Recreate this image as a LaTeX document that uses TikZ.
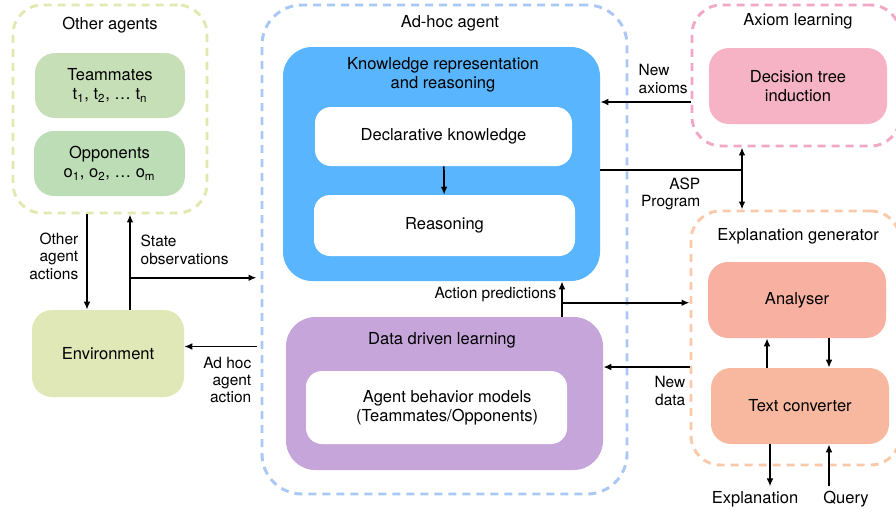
\documentclass[tikz,border=0pt]{standalone}
\usepackage{fontspec}
\setmainfont{TeX Gyre Heros}
\usetikzlibrary{calc, positioning, arrows.meta}

\definecolor{othersdash}{HTML}{E2E8B0}
\definecolor{teamfill}{HTML}{C7DFB6}
\definecolor{oppfill}{HTML}{BCDDB5}
\definecolor{envfill}{HTML}{E1E8B7}
\definecolor{adhocdash}{HTML}{A9C8F5}
\definecolor{krrfill}{HTML}{59B5FD}
\definecolor{ddlfill}{HTML}{C6A5DB}
\definecolor{axiomdash}{HTML}{F1A8C7}
\definecolor{dtfill}{HTML}{F6B3C6}
\definecolor{expldash}{HTML}{F9C9A9}
\definecolor{anfill}{HTML}{F8B1A1}
\definecolor{tcfill}{HTML}{F8B8A0}

\begin{document}
\begin{tikzpicture}[x=0.75pt, y=-0.75pt, >={Latex[length=6pt,width=5pt]},
  font=\fontsize{12.4}{14.5}\selectfont,
  group/.style={draw, dash pattern=on 6pt off 4.5pt, line width=2.2pt, rounded corners=22pt},
  block/.style={rectangle, rounded corners=15pt, align=center},
  inner/.style={rectangle, fill=white, rounded corners=12pt, align=center},
  lbl/.style={font=\fontsize{11.6}{13}\selectfont},
  conn/.style={line width=1.3pt}]
\useasboundingbox (0,0) rectangle (896,511);

% other agents and environment
\node[group, draw=othersdash, minimum width=145.5pt, minimum height=156pt] (others) at (110,109) {};
\node (otherstitle) at (110,25) {Other agents};
\node[block, fill=teamfill, minimum width=112.5pt, minimum height=48.75pt] (team) at (110,85.5) {Teammates\\t\textsubscript{1}, t\textsubscript{2}, \ldots\ t\textsubscript{n}};
\node[block, fill=oppfill, minimum width=113.25pt, minimum height=48.75pt] (opp) at (109.5,163.5) {Opponents\\o\textsubscript{1}, o\textsubscript{2}, \ldots\ o\textsubscript{m}};
\node[block, fill=envfill, minimum width=114pt, minimum height=65.25pt] (env) at (108,353.5) {Environment};

% ad-hoc agent
\node[group, draw=adhocdash, rounded corners=30pt, minimum width=273.75pt, minimum height=366.75pt] (adhoc) at (444.5,249.5) {};
\node (adhoctitle) at (450,23) {Ad-hoc agent};
\node[block, fill=krrfill, rounded corners=22pt, minimum width=237.75pt, minimum height=175.5pt] (krr) at (441.5,164) {};
\node[align=center] (krrtitle) at (443,75) {Knowledge representation\\and reasoning};
\node[inner, minimum width=192.75pt, minimum height=44.25pt] (decl) at (443.5,136.5) {Declarative knowledge};
\node[inner, minimum width=195.75pt, minimum height=45.75pt] (reason) at (444.5,225.5) {Reasoning};
\node[block, fill=ddlfill, rounded corners=22pt, minimum width=237.75pt, minimum height=114.75pt] (ddl) at (444.5,393.5) {};
\node (ddltitle) at (442,340) {Data driven learning};
\node[inner, minimum width=195.75pt, minimum height=54.75pt] (abm) at (436.5,407.5) {\hspace*{16pt}Agent behavior models\\\hspace*{16pt}(Teammates/Opponents)};

% axiom learning
\node[group, draw=axiomdash, minimum width=156pt, minimum height=105.75pt] (axiom) at (796,75.5) {};
\node (axiomtitle) at (798,21) {Axiom learning};
\node[block, fill=dtfill, minimum width=133.5pt, minimum height=57pt] (dt) at (798,86) {Decision tree\\induction};

% explanation generator
\node[group, draw=expldash, minimum width=156.75pt, minimum height=190.5pt] (expl) at (795.5,338) {};
\node (expltitle) at (798,236) {Explanation generator};
\node[block, fill=anfill, minimum width=133.5pt, minimum height=57pt] (an) at (797,300) {Analyser};
\node[block, fill=tcfill, minimum width=133.5pt, minimum height=57pt] (tc) at (800,406) {Text converter};
\node (explout) at (755,499) {Explanation};
\node (query) at (846,499) {Query};

% connectors
\coordinate (oa) at ($(others.south)+(-23,0)$);
\draw[conn, ->] (oa) -- (oa |- env.north);
\node[lbl, align=right, anchor=east] (oalbl) at (83,256) {Other\\agent\\actions};
\coordinate (so) at ($(env.north)+(22,0)$);
\draw[conn, ->] (so) -- (so |- others.south);
\coordinate (sobr) at ($(so)+(0,-32)$);
\draw[conn, ->] (sobr) -- ($(sobr -| adhoc.west)+(-4,0)$);
\node[lbl, align=left, anchor=west] (solbl) at (136,250) {State\\observations};
\coordinate (act) at ($(env.east)+(0,-7)$);
\draw[conn, ->] ($(act -| adhoc.west)+(-4,0)$) -- (act);
\node[lbl, align=right, anchor=east] (actlbl) at (256,380) {Ad hoc\\agent\\action};

\draw[conn, ->] (decl) -- (reason);

\coordinate (ap) at ($(ddl.north)+(117.5,0)$);
\draw[conn, ->] (ap) -- (ap |- krr.south);
\node[lbl, anchor=east] (aplbl) at (561,295) {Action predictions};
\coordinate (apbr) at ($(ap)+(0,-14)$);
\draw[conn, ->] (apbr) -- (apbr -| expl.west);

\coordinate (nax) at (axiom.west |- 0,102);
\draw[conn, ->] (nax) -- (nax -| krr.east);
\node[lbl, align=left, anchor=west] (naxlbl) at (634,79) {New\\axioms};

\coordinate (asp) at (742,170);
\draw[conn] (asp -| krr.east) -- (asp);
\draw[conn, <->] (asp |- axiom.south) -- (asp |- expl.north);
\node[lbl, align=right, anchor=east] (asplbl) at (705,194) {ASP\\Program};

\coordinate (nd) at (expl.west |- 0,367);
\draw[conn, ->] (nd) -- (nd -| ddl.east);
\node[lbl, align=right, anchor=east] (ndlbl) at (690,391) {New\\data};

\coordinate (up) at ($(tc.north)+(-33,0)$);
\draw[conn, ->] (up) -- (up |- an.south);
\coordinate (down) at ($(an.south)+(32,0)$);
\draw[conn, ->] (down) -- (down |- tc.north);

\coordinate (eo) at ($(tc.south)+(-30,0)$);
\draw[conn, ->] (eo) -- (eo |- explout.north);
\coordinate (qi) at (query.north -| down);
\draw[conn, ->] (qi) -- (qi |- tc.south);
\end{tikzpicture}
\end{document}
